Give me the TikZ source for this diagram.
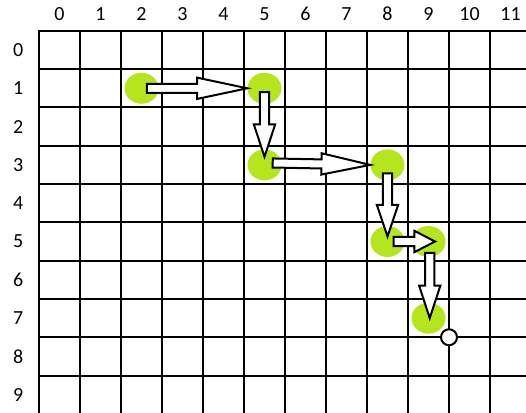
\documentclass[tikz,border=0pt]{standalone}
\usepackage{fontspec}
\setmainfont{Carlito}
\usetikzlibrary{calc,shapes.geometric}
\definecolor{lime}{RGB}{181,230,29}

% hollow block arrow from #1 to #2 (head takes the second half)
\newcommand{\blockarrow}[2]{%
  \coordinate (bs) at (#1);
  \coordinate (be) at (#2);
  \coordinate (bm) at ($(bs)!0.5!(be)$);
  \draw[arr] ($(bs)!3.4pt!90:(be)$) -- ($(bm)!3.4pt!90:(be)$)
    -- ($(bm)!8pt!90:(be)$) -- (be) -- ($(bm)!8pt!-90:(be)$)
    -- ($(bm)!3.4pt!-90:(be)$) -- ($(bs)!3.4pt!-90:(be)$) -- cycle;}

\begin{document}
\begin{tikzpicture}[
    x=30.75pt, y=-28.725pt,
    gridline/.style={draw=black, line width=1.5pt, line cap=rect},
    lbl/.style={font=\fontsize{15}{18}\selectfont, inner sep=0pt},
    dot/.style={ellipse, fill=lime, minimum width=25.5pt,
      minimum height=23.25pt, inner sep=0pt},
    arr/.style={draw=black, fill=white, line width=1.5pt},
    endpt/.style={circle, draw=black, fill=white, line width=1.5pt,
      minimum size=12pt, inner sep=0pt},
  ]
  \useasboundingbox (-1.4512,-1.3055) rectangle (11.378,9.452);
  \clip (-1.4512,-1.3055) rectangle (11.378,9.452);

  % --- grid ---
  \foreach \c in {0,...,12}
    \draw[gridline] (\c-0.5,-0.5) -- (\c-0.5,10);
  \foreach \r in {0,...,10}
    \draw[gridline] (-0.5,\r-0.5) -- (12,\r-0.5);

  % --- labels ---
  \foreach \c in {0,...,11}
    \node[lbl] (col\c) at (\c,-0.94) {\c};
  \foreach \r in {0,...,9}
    \node[lbl] (row\r) at (-1.01,\r) {\r};

  % --- path cells ---
  \node[dot] (d1) at (2,1) {};
  \node[dot] (d2) at (5,1) {};
  \node[dot] (d3) at (5,3) {};
  \node[dot] (d4) at (8,3) {};
  \node[dot] (d5) at (8,5) {};
  \node[dot] (d6) at (9,5) {};
  \node[dot] (d7) at (9,7) {};

  % --- moves ---
  \blockarrow{$(d1)+(0.13,0)$}{d2.west}
  \blockarrow{$(d2)+(0,0.1)$}{$(d3.north)+(0,0.2)$}
  \blockarrow{$(d3)+(0.2,-0.05)$}{d4.west}
  \blockarrow{$(d4)+(0,0.22)$}{$(d5.north)+(0,0.28)$}
  \blockarrow{$(d5)+(0.15,0)$}{$(d6)+(0.16,0)$}
  \blockarrow{$(d6)+(0.03,0.3)$}{$(d7)+(0.03,0)$}

  % --- goal corner ---
  \node[endpt] (goal) at (9.5,7.5) {};
\end{tikzpicture}
\end{document}
